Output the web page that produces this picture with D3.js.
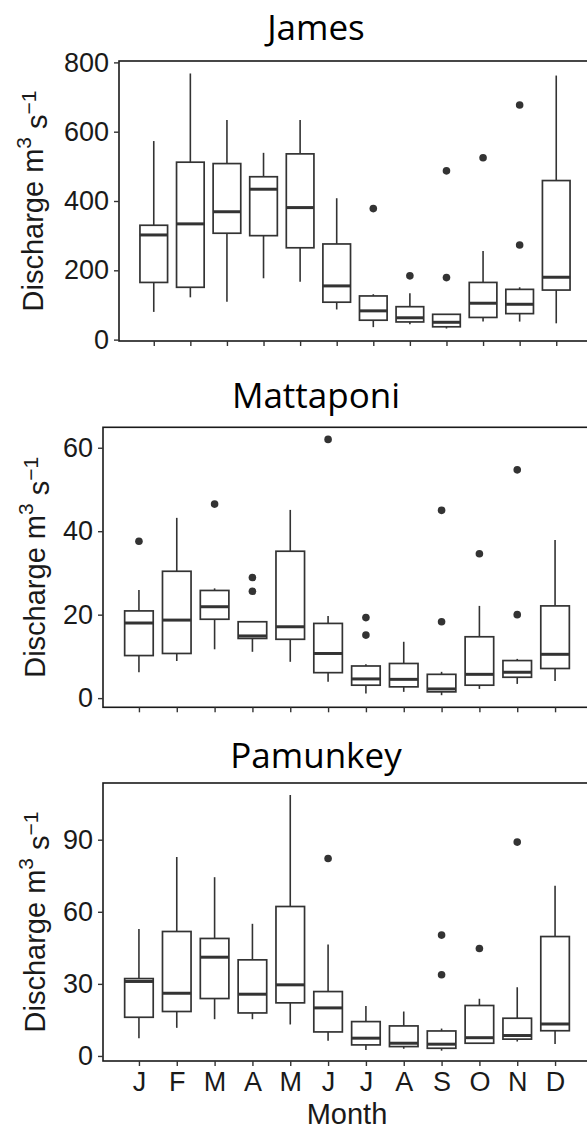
<!DOCTYPE html>
<html>
<head>
<meta charset="utf-8">
<script src="https://cdn.jsdelivr.net/npm/d3@7"></script>
<style>
  body { margin: 0; background: #fff; }
  svg text { font-family: 'Liberation Sans', Arial, sans-serif; }
</style>
</head>
<body>
<div id="canvas"></div>
<script>
const months = ['J', 'F', 'M', 'A', 'M', 'J', 'J', 'A', 'S', 'O', 'N', 'D'];

// [whisker low, q1, median, q3, whisker high] per month
const jamesStats = [
  [80, 165, 302, 330, 573],
  [122, 151, 334, 512, 768],
  [109, 307, 369, 508, 634],
  [177, 300, 434, 470, 539],
  [167, 265, 381, 536, 634],
  [87, 108, 155, 276, 408],
  [36, 56, 83, 126, 131],
  [44, 51, 63, 95, 134],
  [32, 37, 50, 73, 73],
  [52, 64, 105, 165, 256],
  [52, 75, 102, 145, 151],
  [47, 143, 180, 459, 762],
];
// [month index, value]
const jamesOutliers = [[6, 378], [7, 184], [8, 179], [8, 487], [9, 525], [10, 273], [10, 677]];
const jamesTicks = [0, 200, 400, 600, 800];

const mattaponiStats = [
  [6.2, 10.2, 18.0, 20.9, 25.9],
  [8.9, 10.7, 18.7, 30.4, 43.2],
  [11.7, 18.9, 21.9, 25.8, 26.3],
  [11.1, 14.3, 14.9, 18.3, 18.3],
  [8.7, 14.1, 17.1, 35.2, 45.1],
  [3.9, 6.1, 10.7, 17.9, 19.7],
  [1.1, 3.1, 4.6, 7.7, 8.1],
  [1.5, 2.7, 4.5, 8.3, 13.5],
  [0.7, 1.5, 2.2, 5.7, 6.3],
  [2.2, 3.1, 5.7, 14.7, 22.1],
  [3.4, 5.0, 6.2, 9.0, 9.4],
  [4.1, 7.1, 10.5, 22.1, 37.9],
];
const mattaponiOutliers = [[0, 37.6], [2, 46.5], [3, 25.6], [3, 28.9], [5, 62], [6, 15.1], [6, 19.3],
  [8, 18.3], [8, 45.0], [9, 34.6], [10, 20.0], [10, 54.7]];
const mattaponiTicks = [0, 20, 40, 60];

const pamunkeyStats = [
  [7.4, 16.1, 31.0, 32.2, 52.8],
  [11.7, 18.5, 26.1, 51.8, 82.8],
  [15.3, 23.9, 41.1, 48.9, 74.4],
  [15.3, 17.9, 25.7, 40.0, 55.0],
  [13.1, 22.1, 29.6, 62.2, 108.6],
  [6.3, 10.0, 20.0, 26.8, 46.4],
  [2.5, 4.6, 7.4, 14.3, 20.8],
  [3.0, 3.9, 5.3, 12.5, 18.5],
  [2.2, 3.2, 4.9, 10.4, 11.4],
  [5.0, 5.3, 7.6, 21.0, 23.8],
  [6.0, 7.0, 8.5, 15.7, 28.6],
  [5.0, 10.5, 13.3, 49.7, 70.8],
];
const pamunkeyOutliers = [[5, 82.2], [8, 33.8], [8, 50.3], [9, 44.7], [10, 89.0]];
const pamunkeyTicks = [0, 30, 60, 90];

const width = 587;
const height = 1130;
const panelRight = 591;

const svg = d3
  .select('#canvas')
  .append('svg')
  .attr('width', width)
  .attr('height', height);

function drawPanel(p) {
  const xScale = d3
    .scalePoint()
    .domain(d3.range(months.length))
    .range([p.left, panelRight])
    .padding(0.95);
  const yScale = d3.scaleLinear().domain(p.domain).range([p.bottom, p.top]);
  const boxW = xScale.step() * 0.755;

  const g = svg.append('g');

  g.append('rect')
    .attr('x', p.left)
    .attr('y', p.top)
    .attr('width', panelRight - p.left)
    .attr('height', p.bottom - p.top)
    .attr('fill', '#fff');

  const boxes = g
    .selectAll('g.box')
    .data(p.stats)
    .enter()
    .append('g')
    .attr('class', 'box');

  boxes
    .append('line')
    .attr('x1', (d, i) => xScale(i))
    .attr('x2', (d, i) => xScale(i))
    .attr('y1', d => yScale(d[0]))
    .attr('y2', d => yScale(d[4]))
    .attr('stroke', '#333')
    .attr('stroke-width', 1.6);

  boxes
    .append('rect')
    .attr('x', (d, i) => xScale(i) - boxW / 2)
    .attr('width', boxW)
    .attr('y', d => yScale(d[3]))
    .attr('height', d => yScale(d[1]) - yScale(d[3]))
    .attr('fill', '#fff')
    .attr('stroke', '#333')
    .attr('stroke-width', 1.7);

  boxes
    .append('line')
    .attr('x1', (d, i) => xScale(i) - boxW / 2)
    .attr('x2', (d, i) => xScale(i) + boxW / 2)
    .attr('y1', d => yScale(d[2]))
    .attr('y2', d => yScale(d[2]))
    .attr('stroke', '#333')
    .attr('stroke-width', 3);

  g.selectAll('circle')
    .data(p.outliers)
    .enter()
    .append('circle')
    .attr('cx', d => xScale(d[0]))
    .attr('cy', d => yScale(d[1]))
    .attr('r', 3.8)
    .attr('fill', '#333');

  // frame
  g.append('rect')
    .attr('x', p.left)
    .attr('y', p.top)
    .attr('width', panelRight - p.left)
    .attr('height', p.bottom - p.top)
    .attr('fill', 'none')
    .attr('stroke', '#1a1a1a')
    .attr('stroke-width', 1.6);

  const yAxis = d3
    .axisLeft(yScale)
    .tickValues(p.ticks)
    .tickSize(5)
    .tickPadding(5)
    .tickFormat(d3.format('d'));
  const yAxisGroup = g
    .append('g')
    .attr('transform', `translate(${p.left}, 0)`)
    .call(yAxis);

  const xAxis = d3
    .axisBottom(xScale)
    .tickSize(5)
    .tickPadding(6)
    .tickFormat(i => (p.xLabels ? months[i] : ''));
  const xAxisGroup = g
    .append('g')
    .attr('transform', `translate(0, ${p.bottom})`)
    .call(xAxis);

  [yAxisGroup, xAxisGroup].forEach(ax => {
    ax.select('.domain').remove();
    ax.selectAll('.tick line').attr('stroke', '#333').attr('stroke-width', 1.4);
    ax.selectAll('.tick text')
      .attr('fill', '#1a1a1a')
      .style('font-size', '27px')
      .style('font-family', "'Liberation Sans', Arial, sans-serif");
  });

  // panel title
  svg
    .append('text')
    .attr('x', 316)
    .attr('y', p.titleY)
    .attr('text-anchor', 'middle')
    .style('font-family', "'Open Sans', sans-serif")
    .style('font-size', '35px')
    .attr('fill', '#000')
    .text(p.name);

  // y axis title
  const yt = svg
    .append('text')
    .attr('transform', `translate(${p.yTitleX}, ${(p.top + p.bottom) / 2}) rotate(-90)`)
    .attr('text-anchor', 'middle')
    .style('font-size', '29px')
    .attr('fill', '#1a1a1a');
  yt.append('tspan').text('Discharge m');
  yt.append('tspan').attr('dy', '-0.55em').style('font-size', '21px').text('3');
  yt.append('tspan').attr('dy', '0.55em').text(' s');
  yt.append('tspan').attr('dy', '-0.55em').style('font-size', '21px').text('\u22121');
}

drawPanel({
  name: 'James',
  titleY: 40,
  left: 119,
  top: 61,
  bottom: 341,
  domain: [-4, 804],
  ticks: jamesTicks,
  stats: jamesStats,
  outliers: jamesOutliers,
  yTitleX: 43,
  xLabels: false,
});

drawPanel({
  name: 'Mattaponi',
  titleY: 408,
  left: 103,
  top: 427.3,
  bottom: 707.3,
  domain: [-2.2, 64.9],
  ticks: mattaponiTicks,
  stats: mattaponiStats,
  outliers: mattaponiOutliers,
  yTitleX: 45,
  xLabels: false,
});

drawPanel({
  name: 'Pamunkey',
  titleY: 768,
  left: 103,
  top: 783,
  bottom: 1061,
  domain: [-2.1, 113.6],
  ticks: pamunkeyTicks,
  stats: pamunkeyStats,
  outliers: pamunkeyOutliers,
  yTitleX: 45,
  xLabels: true,
});

svg
  .append('text')
  .attr('x', 347)
  .attr('y', 1124)
  .attr('text-anchor', 'middle')
  .style('font-size', '29px')
  .attr('fill', '#1a1a1a')
  .text('Month');
</script>
</body>
</html>
